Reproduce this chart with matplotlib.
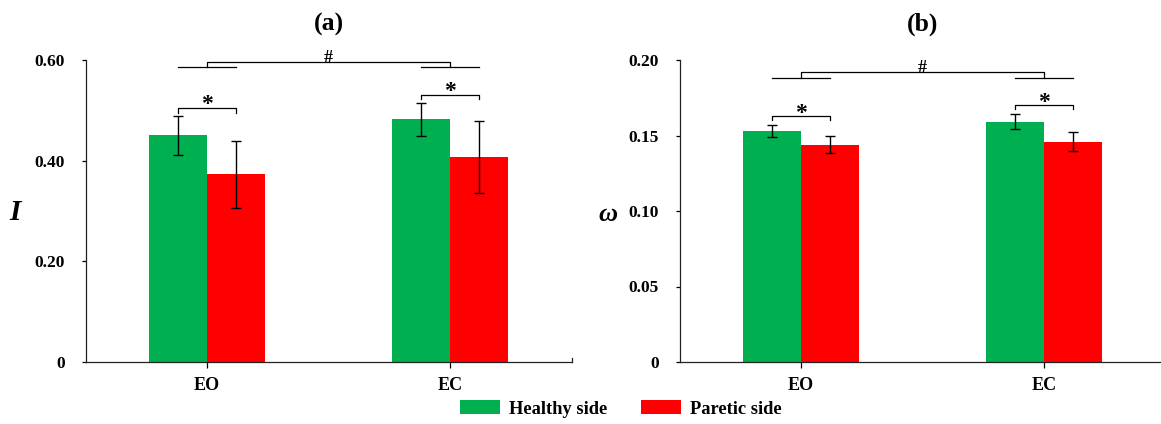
import matplotlib
matplotlib.use("Agg")
import matplotlib.pyplot as plt
import numpy as np

# ---- data ----
categories = ["EO", "EC"]
series_names = ["Healthy side", "Paretic side"]

I_healthy = [0.450, 0.482]
I_healthy_err = [0.038, 0.032]
I_paretic = [0.373, 0.407]
I_paretic_err = [0.067, 0.071]

w_healthy = [0.153, 0.159]
w_healthy_err = [0.004, 0.005]
w_paretic = [0.144, 0.146]
w_paretic_err = [0.0058, 0.006]

I_ticks = [0, 0.20, 0.40, 0.60]
I_ticklabels = ["0", "0.20", "0.40", "0.60"]
w_ticks = [0, 0.05, 0.10, 0.15, 0.20]
w_ticklabels = ["0", "0.05", "0.10", "0.15", "0.20"]

# significance annotation levels (bracket y, drop y)
I_star_levels = [(0.505, 0.495), (0.531, 0.522)]
I_hash_levels = (0.596, 0.586)
w_star_levels = [(0.1627, 0.1600), (0.1700, 0.1673)]
w_hash_levels = (0.1919, 0.1883)

GREEN = "#00B050"
RED = "#FF0000"
FONT = "Liberation Serif"

plt.rcParams["font.family"] = [FONT, "DejaVu Serif"]
plt.rcParams["font.weight"] = "bold"

W, H = 1161, 424
fig = plt.figure(figsize=(W / 100, H / 100), dpi=100)

def px_axes(x0, x1, ytop, ybot):
    return fig.add_axes([x0 / W, (H - ybot) / H, (x1 - x0) / W, (ybot - ytop) / H])

ax1 = px_axes(85.5, 571.5, 60, 362)
ax2 = px_axes(679.5, 1165.5, 60, 362)

bw = 0.24
x = np.arange(len(categories))

def draw(ax, hv, he, pv, pe, ylim, ticks, ticklabels, ylabel, title,
         star_levels, hash_levels, ylab_pos):
    ax.bar(x - bw / 2, hv, bw, color=GREEN, edgecolor="none", label=series_names[0], zorder=2)
    ax.bar(x + bw / 2, pv, bw, color=RED, edgecolor="none", label=series_names[1], zorder=2)
    ax.errorbar(x - bw / 2, hv, yerr=he, fmt="none", ecolor="black", elinewidth=1.0,
                capsize=3.5, capthick=1.0, zorder=3)
    ax.errorbar(x + bw / 2, pv, yerr=pe, fmt="none", ecolor="black", elinewidth=1.0,
                capsize=3.5, capthick=1.0, zorder=3)
    ax.set_xlim(-0.5, 1.5)
    ax.set_ylim(*ylim)
    ax.set_yticks(ticks)
    ax.set_yticklabels(ticklabels)
    ax.set_xticks(x)
    ax.set_xticklabels(categories)
    for s in ["top", "right"]:
        ax.spines[s].set_visible(False)
    for s in ["left", "bottom"]:
        ax.spines[s].set_linewidth(0.9)
        ax.spines[s].set_color("#222222")
    ax.tick_params(axis="y", direction="out", length=3, width=0.9, pad=12, labelsize=12.5)
    ax.tick_params(axis="x", direction="out", length=4, width=0.9, pad=7, labelsize=13)
    for lab in ax.get_xticklabels() + ax.get_yticklabels():
        lab.set_fontweight("bold")
        lab.set_family(FONT)
    ax.set_title(title, fontsize=18.5, fontweight="bold", family=FONT, pad=21)
    fig.text(ylab_pos[0] / W, 1 - ylab_pos[1] / H, ylabel, fontsize=ylab_pos[2],
             fontweight="bold", fontstyle="italic", family=FONT, ha="center", va="center")
    # star brackets
    for i, (yb, yd) in enumerate(star_levels):
        xl, xr = x[i] - bw / 2, x[i] + bw / 2
        ax.plot([xl, xl, xr, xr], [yd, yb, yb, yd], color="black", lw=0.9, zorder=4,
                clip_on=False)
        ax.annotate("*", (x[i], yb), xytext=(0, -5.5), textcoords="offset points",
                    ha="center", va="bottom", fontsize=17, fontweight="bold", family=FONT)
    # hash bracket
    yt, yl = hash_levels
    for i in range(len(categories)):
        ax.plot([x[i] - bw / 2, x[i] + bw / 2], [yl, yl], color="black", lw=0.9,
                clip_on=False)
    ax.plot([x[0], x[0], x[1], x[1]], [yl, yt, yt, yl], color="black", lw=0.9,
            clip_on=False)
    ax.annotate("#", ((x[0] + x[1]) / 2, yt), xytext=(0, -0.5), textcoords="offset points",
                ha="center", va="baseline", fontsize=13, fontweight="bold", family=FONT)

draw(ax1, I_healthy, I_healthy_err, I_paretic, I_paretic_err, (0, 0.6), I_ticks,
     I_ticklabels, "I", "(a)", I_star_levels, I_hash_levels, (15, 213, 21))
draw(ax2, w_healthy, w_healthy_err, w_paretic, w_paretic_err, (0, 0.2), w_ticks,
     w_ticklabels, "ω", "(b)", w_star_levels, w_hash_levels, (608, 214, 19))

# small inward tick at right end of left axis
ax1.plot([1.5, 1.5], [0, 0.008], color="#222222", lw=0.9, clip_on=False)

handles, labels = ax1.get_legend_handles_labels()
fig.legend(handles, labels, loc="center", bbox_to_anchor=(621 / W, 1 - 409 / H),
           ncol=2, frameon=False, prop={"family": FONT, "weight": "bold", "size": 13.3},
           handlelength=2.15, handleheight=0.8, handletextpad=0.5, columnspacing=1.8)

fig.savefig("out.png", dpi=100)
